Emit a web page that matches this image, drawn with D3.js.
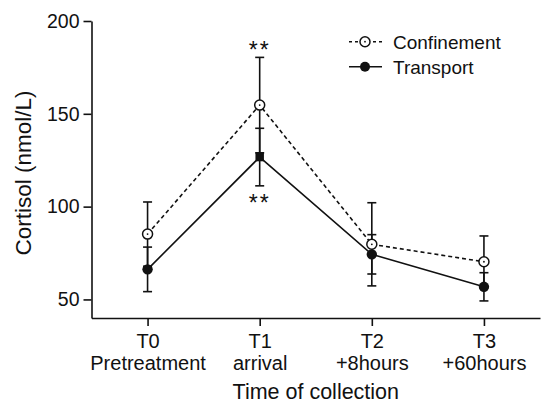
<!DOCTYPE html>
<html>
<head>
<meta charset="utf-8">
<script src="https://cdn.jsdelivr.net/npm/d3@7"></script>
<style>
  body { margin: 0; background: #fff; }
  svg text { font-family: "Liberation Sans", Arial, sans-serif; fill: #111; }
</style>
</head>
<body>
<svg id="chart" width="547" height="407"></svg>
<script>
// values
var categories = ["T0", "T1", "T2", "T3"];
var subLabels = ["Pretreatment", "arrival", "+8hours", "+60hours"];
var confinement = [85.2, 154.7, 79.7, 70.3];
var confinementErr = [17.3, 25.7, 22.4, 13.9];
var transport = [66.2, 126.7, 74.3, 56.8];
var transportErr = [12, 15.5, 10.6, 7.6];
var yTicks = [50, 100, 150, 200];
var sigIndex = 1; // "**" at T1

var svg = d3.select("#chart");
var ink = "#111";

var x = d3.scalePoint()
	.domain(categories)
	.range([91.5, 540])
	.padding(0.5);

var y = d3.scaleLinear()
	.domain([40, 200])
	.range([318, 21]);

// Y axis
var yAxis = d3.axisLeft(y)
	.tickValues(yTicks)
	.tickSize(8)
	.tickSizeOuter(0)
	.tickPadding(4);

var gy = svg.append("g")
	.attr("transform", "translate(91.5,0)")
	.call(yAxis);
gy.selectAll("text").style("font-size", "19.5px").attr("fill", ink);

// X axis
var xAxis = d3.axisBottom(x)
	.tickSize(8)
	.tickSizeOuter(0)
	.tickFormat("");

var gx = svg.append("g")
	.attr("transform", "translate(0,318)")
	.call(xAxis);

gx.selectAll(".tick").each(function(d, i) {
	var t = d3.select(this).append("text")
		.attr("text-anchor", "middle")
		.attr("fill", ink)
		.style("font-size", "20px");
	t.append("tspan").attr("x", 0).attr("y", 30).text(d);
	t.append("tspan").attr("x", 0).attr("y", 52).text(subLabels[i]);
});

svg.selectAll(".domain, .tick line")
	.attr("stroke", ink)
	.attr("stroke-width", 1.6);

// axis titles
svg.append("text")
	.attr("text-anchor", "middle")
	.attr("transform", "translate(31,173)rotate(-90)")
	.style("font-size", "22.5px")
	.text("Cortisol (nmol/L)");

svg.append("text")
	.attr("text-anchor", "middle")
	.attr("x", 315.8)
	.attr("y", 399)
	.style("font-size", "21.5px")
	.text("Time of collection");

// error bars
function errorBars(values, errs) {
	var g = svg.append("g")
		.attr("stroke", ink)
		.attr("stroke-width", 1.6);
	values.forEach(function(v, i) {
		var cx = x(categories[i]);
		var top = y(v + errs[i]), bot = y(v - errs[i]);
		g.append("line").attr("x1", cx).attr("x2", cx).attr("y1", top).attr("y2", bot);
		g.append("line").attr("x1", cx - 4.5).attr("x2", cx + 4.5).attr("y1", top).attr("y2", top);
		g.append("line").attr("x1", cx - 4.5).attr("x2", cx + 4.5).attr("y1", bot).attr("y2", bot);
	});
}
errorBars(confinement, confinementErr);
errorBars(transport, transportErr);

// lines
var line = d3.line()
	.x(function(d, i) { return x(categories[i]); })
	.y(function(d) { return y(d); });

svg.append("path")
	.datum(confinement)
	.attr("d", line)
	.attr("fill", "none")
	.attr("stroke", ink)
	.attr("stroke-width", 1.6)
	.attr("stroke-dasharray", "4,3");

svg.append("path")
	.datum(transport)
	.attr("d", line)
	.attr("fill", "none")
	.attr("stroke", ink)
	.attr("stroke-width", 1.6);

// markers
function openMarker(cx, cy) {
	svg.append("circle").attr("cx", cx).attr("cy", cy).attr("r", 5)
		.attr("fill", "#fff").attr("stroke", ink).attr("stroke-width", 1.5);
	svg.append("circle").attr("cx", cx).attr("cy", cy).attr("r", 0.9).attr("fill", ink);
}

confinement.forEach(function(v, i) {
	openMarker(x(categories[i]), y(v));
});

svg.selectAll(".transport-pt")
	.data(transport)
	.enter()
	.append("path")
	.attr("class", "transport-pt")
	.attr("transform", function(d, i) { return "translate(" + x(categories[i]) + "," + y(d) + ")"; })
	.attr("d", function(d, i) {
		return i === sigIndex
			? d3.symbol().type(d3.symbolSquare).size(72)()
			: d3.symbol().type(d3.symbolCircle).size(85)();
	})
	.attr("fill", ink);

// significance marks
svg.append("text")
	.attr("text-anchor", "middle")
	.attr("x", x(categories[sigIndex]))
	.attr("y", y(confinement[sigIndex] + confinementErr[sigIndex]) + 1)
	.style("font-size", "23px")
	.style("letter-spacing", "2px")
	.text("**");

svg.append("text")
	.attr("text-anchor", "middle")
	.attr("x", x(categories[sigIndex]))
	.attr("y", y(transport[sigIndex] - transportErr[sigIndex]) + 25)
	.style("font-size", "23px")
	.style("letter-spacing", "2px")
	.text("**");

// legend
var legend = svg.append("g");

legend.append("line")
	.attr("x1", 349).attr("x2", 382).attr("y1", 41.7).attr("y2", 41.7)
	.attr("stroke", ink).attr("stroke-width", 1.5).attr("stroke-dasharray", "3,3");
openMarker(365, 41.7);
legend.append("text").attr("x", 393).attr("y", 48.5).style("font-size", "19px").text("Confinement");

legend.append("line")
	.attr("x1", 349).attr("x2", 382).attr("y1", 66.7).attr("y2", 66.7)
	.attr("stroke", ink).attr("stroke-width", 1.6);
legend.append("circle").attr("cx", 365).attr("cy", 66.7).attr("r", 5).attr("fill", ink);
legend.append("text").attr("x", 393).attr("y", 73.5).style("font-size", "19px").text("Transport");
</script>
</body>
</html>
